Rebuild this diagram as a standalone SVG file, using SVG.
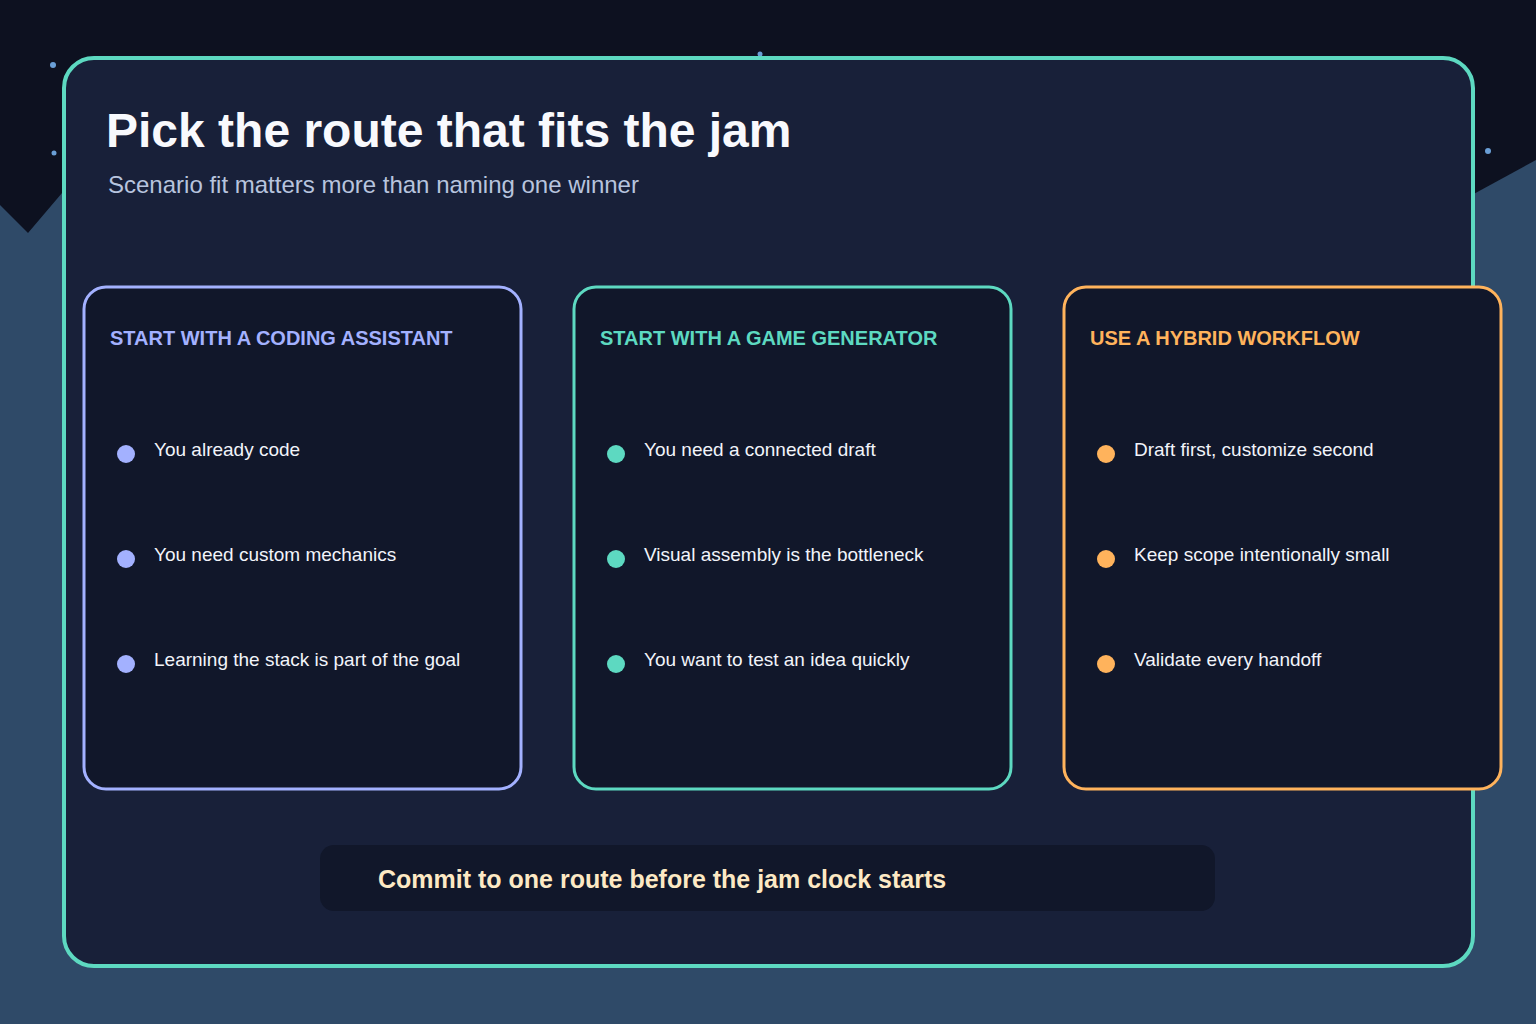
<svg xmlns="http://www.w3.org/2000/svg" width="1536" height="1024" viewBox="0 0 1536 1024">
<style>
.card{fill:#11172a;stroke-width:3}
.h{font-family:"Liberation Sans",Arial,sans-serif;font-weight:bold;font-size:20px}
.t{font-family:"Liberation Sans",Arial,sans-serif;font-size:19px;fill:#f2f4fa}
</style>
<rect width="1536" height="1024" fill="#0d1120"/>
<polygon points="0,205 28,233 62,193 62,1024 0,1024" fill="#2f4a68"/>
<polygon points="1470,196 1536,160 1536,1024 1470,1024" fill="#2f4a68"/>
<rect x="0" y="260" width="1536" height="764" fill="#2f4a68"/>
<g fill="#6a9fd6"><circle cx="53" cy="65" r="3"/><circle cx="54" cy="153" r="2.5"/><circle cx="1488" cy="151" r="3"/><circle cx="760" cy="54" r="2.5"/></g>
<g id="frame">
<rect x="64" y="58" width="1409" height="908" rx="30" fill="#182039" stroke="#5dd9c1" stroke-width="4"/>
<text x="106" y="147" font-family="Liberation Sans,Arial,sans-serif" font-weight="bold" font-size="48" fill="#f8f9fd">Pick the route that fits the jam</text>
<text x="108" y="193" font-family="Liberation Sans,Arial,sans-serif" font-size="24" fill="#b7c4de">Scenario fit matters more than naming one winner</text>
</g>
<g id="card1">
<rect class="card" x="84" y="287" width="437" height="502" rx="22" stroke="#a3b1ff"/>
<text class="h" x="110" y="345" fill="#a3b1ff">START WITH A CODING ASSISTANT</text>
<g fill="#a3b1ff"><circle cx="126" cy="454" r="9"/><circle cx="126" cy="559" r="9"/><circle cx="126" cy="664" r="9"/></g>
<text class="t" x="154" y="456">You already code</text>
<text class="t" x="154" y="561">You need custom mechanics</text>
<text class="t" x="154" y="666">Learning the stack is part of the goal</text>
</g>
<g id="card2">
<rect class="card" x="574" y="287" width="437" height="502" rx="22" stroke="#5dd9c1"/>
<text class="h" x="600" y="345" fill="#5dd9c1">START WITH A GAME GENERATOR</text>
<g fill="#5dd9c1"><circle cx="616" cy="454" r="9"/><circle cx="616" cy="559" r="9"/><circle cx="616" cy="664" r="9"/></g>
<text class="t" x="644" y="456">You need a connected draft</text>
<text class="t" x="644" y="561">Visual assembly is the bottleneck</text>
<text class="t" x="644" y="666">You want to test an idea quickly</text>
</g>
<g id="card3">
<rect class="card" x="1064" y="287" width="437" height="502" rx="22" stroke="#ffb35c"/>
<text class="h" x="1090" y="345" fill="#ffb35c">USE A HYBRID WORKFLOW</text>
<g fill="#ffb35c"><circle cx="1106" cy="454" r="9"/><circle cx="1106" cy="559" r="9"/><circle cx="1106" cy="664" r="9"/></g>
<text class="t" x="1134" y="456">Draft first, customize second</text>
<text class="t" x="1134" y="561">Keep scope intentionally small</text>
<text class="t" x="1134" y="666">Validate every handoff</text>
</g>
<g id="footer">
<rect x="320" y="845" width="895" height="66" rx="14" fill="#11172a"/>
<text x="378" y="888" font-family="Liberation Sans,Arial,sans-serif" font-weight="bold" font-size="25" fill="#fde9c4">Commit to one route before the jam clock starts</text>
</g>
<g id="connectors"/>
</svg>
